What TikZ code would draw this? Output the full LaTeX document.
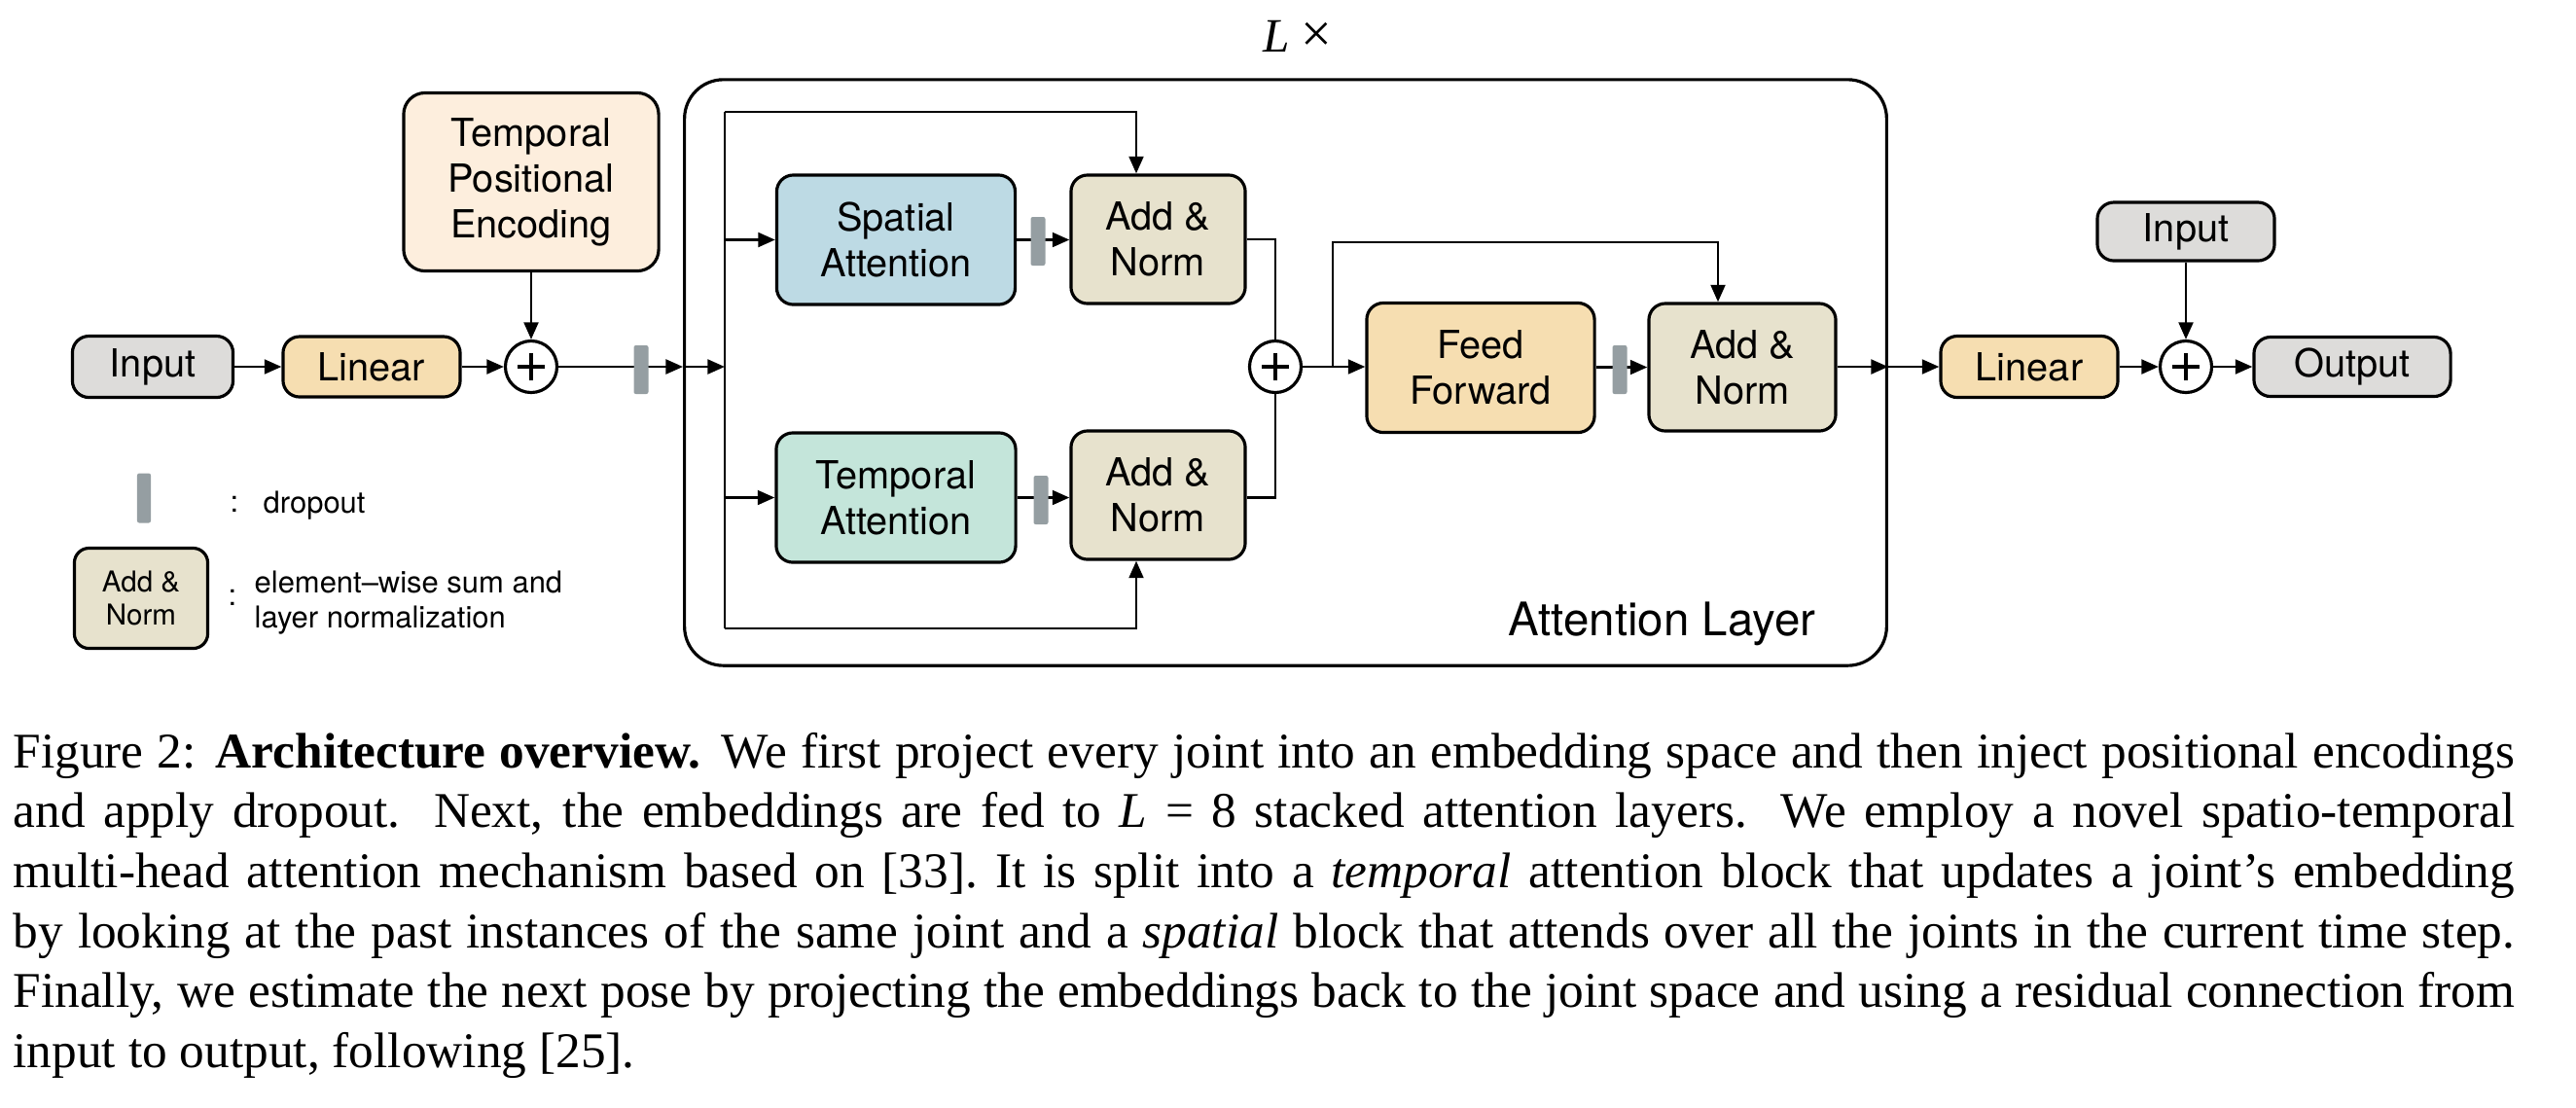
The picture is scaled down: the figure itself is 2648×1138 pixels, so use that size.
\documentclass[tikz,border=0pt]{standalone}
\usepackage{fontspec}
\setmainfont{TeX Gyre Heros}
\newfontfamily\capfont{Liberation Serif}
\usetikzlibrary{arrows.meta,calc}
\definecolor{cgray}{HTML}{DDDCDA}
\definecolor{clin}{HTML}{F6DEB1}
\definecolor{ctpe}{HTML}{FDEEDD}
\definecolor{cspa}{HTML}{BDDAE4}
\definecolor{ctem}{HTML}{C4E5DA}
\definecolor{cadd}{HTML}{E7E2CD}
\definecolor{cdrop}{HTML}{959EA2}
\tikzset{
  box/.style={draw, line width=0.9pt, rounded corners=0.17cm, align=center,
    font=\fontsize{11.3}{13.4}\selectfont, inner sep=0pt},
  dropbar/.style={fill=cdrop, draw=none, rounded corners=0.6pt,
    minimum width=0.15cm, minimum height=0.5cm, inner sep=0pt},
  plus/.style={circle, draw, line width=0.9pt, fill=white, minimum size=0.53cm, inner sep=0pt,
    path picture={
      \draw[line width=1.3pt] ([xshift=-0.14cm]path picture bounding box.center) -- ([xshift=0.14cm]path picture bounding box.center);
      \draw[line width=1.3pt] ([yshift=-0.14cm]path picture bounding box.center) -- ([yshift=0.14cm]path picture bounding box.center);}},
  conn/.style={line width=0.8pt, -{Triangle[length=5pt,width=4.2pt]}},
  wire/.style={line width=0.8pt},
  capline/.style={anchor=base west, inner sep=0pt, font=\capfont\fontsize{14.6}{17.5}\selectfont},
  legtext/.style={anchor=base west, inner sep=0pt, font=\fontsize{8.8}{10.2}\selectfont}
}
\begin{document}
\begin{tikzpicture}[x=0.01cm,y=-0.01cm]
\useasboundingbox (0,0) rectangle (2648,1138);

% attention layer frame
\node[draw, line width=0.9pt, rounded corners=0.4cm, minimum width=12.35cm, minimum height=6.02cm, inner sep=0pt] (layer) at (1321.5,383) {};
\node[anchor=base, inner sep=0pt, font=\capfont\fontsize{14}{16}\selectfont] (lx) at (1334,53) {\textit{L} {\fontsize{16}{16}\selectfont ×}};
\node[anchor=base west, inner sep=0pt, font=\fontsize{13.5}{16}\selectfont] (altxt) at (1550,653) {Attention Layer};

% left part
\node[box, fill=cgray, minimum width=1.65cm, minimum height=0.63cm] (in1) at (157,377) {Input};
\node[box, fill=clin, minimum width=1.82cm, minimum height=0.62cm] (lin1) at (382,377) {Linear};
\node[plus] (plus1) at (546,377) {};
\node[box, fill=ctpe, rounded corners=0.22cm, minimum width=2.62cm, minimum height=1.83cm] (tpe) at (546,187) {Temporal\\Positional\\Encoding};

% inside layer
\node[box, fill=cspa, minimum width=2.45cm, minimum height=1.33cm] (spa) at (921,246.5) {Spatial\\Attention};
\node[box, fill=cadd, minimum width=1.79cm, minimum height=1.32cm] (an1) at (1190.5,246) {Add \&\\Norm};
\node[box, fill=ctem, minimum width=2.46cm, minimum height=1.33cm] (tem) at (921,511.5) {Temporal\\Attention};
\node[box, fill=cadd, minimum width=1.79cm, minimum height=1.32cm] (an2) at (1190.5,509) {Add \&\\Norm};
\node[plus] (sum) at (1311,377) {};
\node[box, fill=clin, minimum width=2.34cm, minimum height=1.33cm] (ff) at (1522,378) {Feed\\Forward};
\node[box, fill=cadd, minimum width=1.92cm, minimum height=1.31cm] (an3) at (1791,377.5) {Add \&\\Norm};

% right part
\node[box, fill=clin, minimum width=1.82cm, minimum height=0.63cm] (lin2) at (2086,377) {Linear};
\node[plus] (plus2) at (2247,377) {};
\node[box, fill=cgray, minimum width=2.02cm, minimum height=0.61cm] (out) at (2418,377) {Output};
\node[box, fill=cgray, minimum width=1.82cm, minimum height=0.60cm] (in2) at (2247,238) {Input};

% coordinates
\coordinate (jt) at (745,115);
\coordinate (jb) at (745,646);
\coordinate (jm) at (745,377);
\coordinate (js) at (745,246.5);
\coordinate (jtm) at (745,511.5);
\coordinate (s1) at (1168,115);
\coordinate (s2) at (1168,646);
\coordinate (b1) at (1370,377);
\coordinate (b2) at (1766,249);
\coordinate (lw) at (layer.west |- plus1.east);
\coordinate (le) at (layer.east |- lin2.west);

% connectors left
\draw[conn] (in1) -- (lin1);
\draw[conn] (lin1) -- (plus1);
\draw[conn] (tpe) -- (plus1);
\draw[conn] (plus1) -- (lw);
\draw[conn] (lw) -- (jm);
\draw[wire] (jt) -- (jb);
\draw[conn] (js) -- (spa.west);
\draw[conn] (jtm) -- (tem.west);
\draw[conn] (jt) -- (s1) -- (s1 |- an1.north);
\draw[conn] (jb) -- (s2) -- (s2 |- an2.south);
\draw[conn] (spa.east) -- (an1.west |- spa.east);
\draw[conn] (tem.east) -- (an2.west |- tem.east);
\draw[wire] (an1.east) -| (sum.north);
\draw[wire] (an2.east |- tem.east) -| (sum.south);
\draw[conn] (sum) -- (ff.west |- sum);
\draw[conn] (b1) |- (b2) -- (b2 |- an3.north);
\draw[conn] (ff.east |- an3.west) -- (an3.west);
\draw[conn] (an3.east |- le) -- (le);
\draw[conn] (le) -- (lin2.west);
\draw[conn] (lin2) -- (plus2);
\draw[conn] (plus2) -- (out);
\draw[conn] (in2) -- (plus2);

% dropout bars
\node[dropbar] (d0) at (659,380) {};
\node[dropbar] (d1) at (1067,248) {};
\node[dropbar] (d2) at (1070,514) {};
\node[dropbar] (d3) at (1665,380) {};

% legend
\node[dropbar, minimum width=0.14cm, minimum height=0.51cm] (ld) at (148,512) {};
\node[legtext] (lc1) at (236,526) {:};
\node[legtext] (ldt) at (270,527) {dropout};
\node[box, fill=cadd, rounded corners=0.15cm, minimum width=1.37cm, minimum height=1.03cm, font=\fontsize{8.4}{9.6}\selectfont] (lan) at (145,615) {Add \&\\Norm};
\node[legtext] (lc2) at (234,622) {:};
\node[legtext] (lt1) at (261,609) {element–wise sum and};
\node[legtext] (lt2) at (261,645) {layer normalization};

% caption
\node[capline] (cap1) at (13,789) {\makebox[25.70cm][s]{Figure 2: \textbf{Architecture overview.} We first project every joint into an embedding space and then inject positional encodings}};
\node[capline] (cap2) at (13,850.7) {\makebox[25.70cm][s]{and apply dropout.  Next, the embeddings are fed to \textit{L} = 8 stacked attention layers.  We employ a novel spatio-temporal}};
\node[capline] (cap3) at (13,912.4) {\makebox[25.70cm][s]{multi-head attention mechanism based on [33].\ It is split into a \textit{temporal} attention block that updates a joint’s embedding}};
\node[capline] (cap4) at (13,974.1) {\makebox[25.70cm][s]{by looking at the past instances of the same joint and a \textit{spatial} block that attends over all the joints in the current time step.}};
\node[capline] (cap5) at (13,1035.8) {\makebox[25.70cm][s]{Finally, we estimate the next pose by projecting the embeddings back to the joint space and using a residual connection from}};
\node[capline] (cap6) at (13,1097.5) {input to output, following [25].};
\end{tikzpicture}
\end{document}
